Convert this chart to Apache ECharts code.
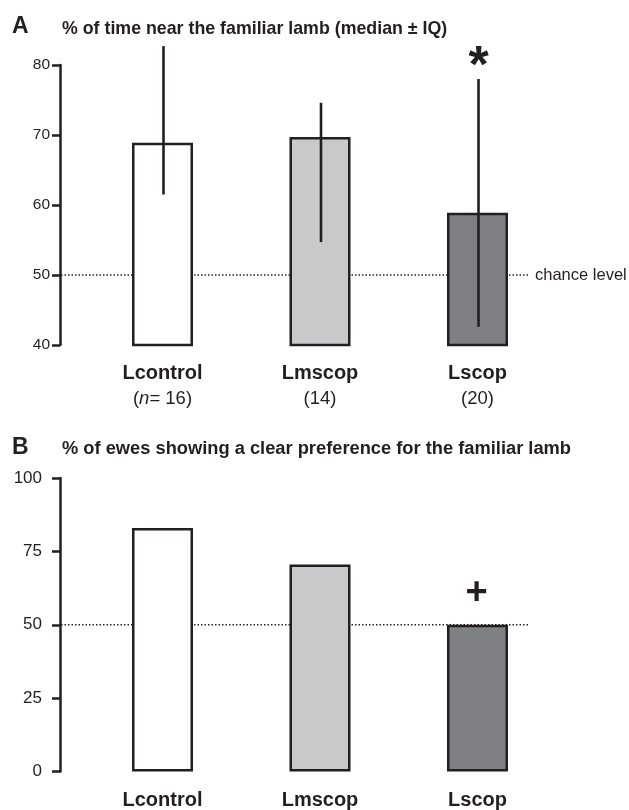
<!DOCTYPE html>
<html><head><meta charset="utf-8">
<script src="https://cdn.jsdelivr.net/npm/echarts@6/dist/echarts.min.js"></script>
<style>html,body{margin:0;padding:0;background:#fff}#c{width:629px;height:810px}</style>
</head><body><div id="c"></div>
<script>
const categories = ['Lcontrol', 'Lmscop', 'Lscop'];
const nLabels = ['16', '14', '20'];
const medianA = [68.9, 69.7, 58.9];
const iqLowA = [61.5, 54.7, 42.6];
const iqHighA = [82.7, 74.6, 78.0];
const sigA = ['', '', '*'];
const prefB = [83, 70.5, 50];
const sigB = ['', '', '+'];
const chanceA = 50;
const chanceB = 50;
const fills = ['#ffffff', '#c8c9cb', '#7f8083'];

const FONT = "'Liberation Sans', Arial, Helvetica, sans-serif";
const INK = '#231f20';
const GL = 83.75, GW = 472.5, YOFF = 23.75;

const chart = echarts.init(document.getElementById('c'));

function chanceSeries(idx, val, label) {
  return {
    type: 'custom', xAxisIndex: idx, yAxisIndex: idx, z: 1, silent: true, clip: false,
    data: [[0, val]],
    renderItem: function (params, api) {
      const y = api.coord([0, api.value(1)])[1];
      const x1 = params.coordSys.x - YOFF + 1;
      const x2 = 528;
      const children = [{
        type: 'line', shape: { x1: x1, y1: y, x2: x2, y2: y },
        style: { stroke: INK, lineWidth: 1.3, lineDash: [1.5, 2] }
      }];
      if (label) children.push({
        type: 'text', x: 535, y: y,
        style: { text: label, fill: INK, font: '16.5px ' + FONT, verticalAlign: 'middle', align: 'left' }
      });
      return { type: 'group', children: children };
    }
  };
}

const titleStyleA = { fontFamily: FONT, fontSize: 17.8, fontWeight: 'bold', color: INK };
const titleStyleB = { fontFamily: FONT, fontSize: 18.3, fontWeight: 'bold', color: INK };
const letterStyle = { fontFamily: FONT, fontSize: 23, fontWeight: 'bold', color: INK };

const option = {
  animation: false,
  backgroundColor: '#fff',
  title: [
    { text: 'A', left: 12, top: 15, padding: 0, textStyle: letterStyle },
    { text: '% of time near the familiar lamb (median \u00b1 IQ)', left: 62, top: 20, padding: 0, textStyle: titleStyleA },
    { text: 'B', left: 12, top: 436, padding: 0, textStyle: letterStyle },
    { text: '% of ewes showing a clear preference for the familiar lamb', left: 62, top: 440, padding: 0, textStyle: titleStyleB }
  ],
  grid: [
    { left: GL, width: GW, top: 65, height: 280 },
    { left: GL, width: GW, top: 478, height: 297 }
  ],
  xAxis: [0, 1].map(function (g) {
    return {
      type: 'category', gridIndex: g, data: categories,
      axisLine: { show: false }, axisTick: { show: false },
      axisLabel: {
        margin: 16, interval: 0, color: INK, fontFamily: FONT,
        formatter: function (v, i) {
          if (g === 1) return '{b|' + v + '}';
          const second = i === 0 ? '{n|(}{i|n}{n|= ' + nLabels[i] + ')}' : '{n|(' + nLabels[i] + ')}';
          return '{b|' + v + '}\n' + second;
        },
        rich: {
          b: { fontFamily: FONT, fontSize: 20, fontWeight: 'bold', color: INK, lineHeight: 25 },
          n: { fontFamily: FONT, fontSize: 18.5, color: INK, lineHeight: 25 },
          i: { fontFamily: FONT, fontSize: 18.5, fontStyle: 'italic', color: INK, lineHeight: 25 }
        }
      }
    };
  }),
  yAxis: [
    {
      type: 'value', gridIndex: 0, min: 40, max: 80, interval: 10, offset: YOFF,
      splitLine: { show: false },
      axisLine: { show: true, lineStyle: { color: INK, width: 2.5 } },
      axisTick: { show: true, length: 8, lineStyle: { color: INK, width: 2.5 } },
      axisLabel: { margin: 10, color: INK, fontFamily: FONT, fontSize: 15.5 }
    },
    {
      type: 'value', gridIndex: 1, min: 0, max: 100, interval: 25, offset: YOFF,
      splitLine: { show: false },
      axisLine: { show: true, lineStyle: { color: INK, width: 2.5 } },
      axisTick: { show: true, length: 8, lineStyle: { color: INK, width: 2.5 } },
      axisLabel: { margin: 18, color: INK, fontFamily: FONT, fontSize: 17 }
    }
  ],
  series: [
    chanceSeries(0, chanceA, 'chance level'),
    chanceSeries(1, chanceB, ''),
    {
      type: 'bar', xAxisIndex: 0, yAxisIndex: 0, z: 2, barWidth: 61, startValue: 40,
      data: medianA.map(function (v, i) { return { value: v, itemStyle: { color: fills[i] } }; }),
      itemStyle: { borderColor: INK, borderWidth: 2.5 }
    },
    {
      type: 'bar', xAxisIndex: 1, yAxisIndex: 1, z: 2, barWidth: 61,
      data: prefB.map(function (v, i) { return { value: v, itemStyle: { color: fills[i] } }; }),
      itemStyle: { borderColor: INK, borderWidth: 2.5 }
    },
    {
      type: 'custom', xAxisIndex: 0, yAxisIndex: 0, z: 3, clip: false, silent: true,
      data: categories.map(function (c, i) { return [i, iqLowA[i], iqHighA[i]]; }),
      renderItem: function (params, api) {
        const i = api.value(0);
        const lo = api.coord([i, api.value(1)]);
        const hi = api.coord([i, api.value(2)]);
        const children = [{
          type: 'line', shape: { x1: lo[0] + 1, y1: lo[1], x2: hi[0] + 1, y2: hi[1] },
          style: { stroke: INK, lineWidth: 2.6 }
        }];
        if (sigA[i]) children.push({
          type: 'text', x: hi[0] + 1, y: hi[1] + 15,
          style: { text: sigA[i], fill: INK, font: 'bold 52px ' + FONT, align: 'center', verticalAlign: 'bottom' }
        });
        return { type: 'group', children: children };
      }
    },
    {
      type: 'custom', xAxisIndex: 1, yAxisIndex: 1, z: 3, clip: false, silent: true,
      data: categories.map(function (c, i) { return [i, prefB[i]]; }),
      renderItem: function (params, api) {
        const i = api.value(0);
        if (!sigB[i]) return null;
        const p = api.coord([i, api.value(1)]);
        return {
          type: 'text', x: p[0] - 1, y: p[1] - 31,
          style: { text: sigB[i], fill: INK, font: 'bold 38px ' + FONT, align: 'center', verticalAlign: 'middle' }
        };
      }
    }
  ]
};
chart.setOption(option);
</script>
</body></html>
